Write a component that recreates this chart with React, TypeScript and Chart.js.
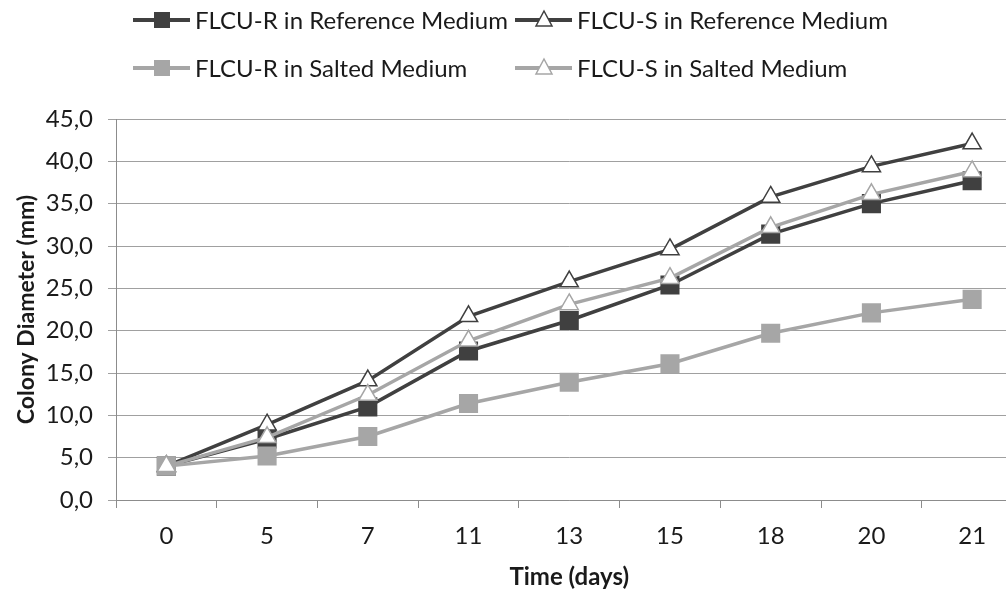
import React, { useEffect, useRef } from "react";
import { Chart, registerables } from "chart.js";

Chart.register(...registerables);

const days = ["0", "5", "7", "11", "13", "15", "18", "20", "21"];
const refR = [4.0, 7.2, 11.0, 17.6, 21.2, 25.4, 31.4, 35.0, 37.7];
const refS = [4.0, 8.9, 14.1, 21.7, 25.8, 29.6, 35.8, 39.4, 42.1];
const saltR = [4.0, 5.2, 7.5, 11.4, 13.9, 16.1, 19.7, 22.1, 23.7];
const saltS = [4.0, 7.4, 12.4, 18.8, 23.1, 26.2, 32.2, 36.1, 38.8];
const yTicks = [0, 5, 10, 15, 20, 25, 30, 35, 40, 45];

const DARK = "#404040";
const LIGHT = "#a6a6a6";
const FONT = "Lato, 'Open Sans', sans-serif";

const legendPlugin = {
  id: "gridLegend",
  afterDraw(chart: any) {
    const ctx = chart.ctx;
    const cols = [133, 515];
    const rows = [20, 68];
    chart.data.datasets.forEach((ds: any, i: number) => {
      const x = cols[i % 2];
      const y = rows[Math.floor(i / 2)];
      ctx.save();
      ctx.strokeStyle = ds.borderColor;
      ctx.lineWidth = 4;
      ctx.beginPath();
      ctx.moveTo(x, y);
      ctx.lineTo(x + 57, y);
      ctx.stroke();
      const cx = x + 29;
      if (ds.pointStyle === "rect") {
        ctx.fillStyle = ds.pointBackgroundColor;
        ctx.fillRect(cx - 8, y - 8, 16, 16);
      } else {
        ctx.fillStyle = "#ffffff";
        ctx.strokeStyle = ds.pointBorderColor;
        ctx.lineWidth = 1.5;
        ctx.beginPath();
        ctx.moveTo(cx, y - 9);
        ctx.lineTo(cx + 8, y + 6);
        ctx.lineTo(cx - 8, y + 6);
        ctx.closePath();
        ctx.fill();
        ctx.stroke();
      }
      ctx.fillStyle = "#1a1a1a";
      ctx.font = `24px ${FONT}`;
      ctx.textBaseline = "middle";
      ctx.textAlign = "left";
      ctx.fillText(ds.label, x + 62, y + 1);
      ctx.restore();
    });
  },
};

export default function App() {
  const ref = useRef<HTMLCanvasElement | null>(null);

  useEffect(() => {
    if (!ref.current) return;
    const chart = new Chart(ref.current, {
      type: "line",
      data: {
        labels: days,
        datasets: [
          {
            label: "FLCU-R in Reference Medium",
            data: refR,
            borderColor: DARK,
            borderWidth: 3.5,
            pointStyle: "rect",
            pointRadius: 13.5,
            pointBackgroundColor: DARK,
            pointBorderColor: DARK,
            pointBorderWidth: 0,
            order: 4,
          },
          {
            label: "FLCU-S in Reference Medium",
            data: refS,
            borderColor: DARK,
            borderWidth: 3.5,
            pointStyle: "triangle",
            pointRadius: 10.5,
            pointBackgroundColor: "#ffffff",
            pointBorderColor: DARK,
            pointBorderWidth: 1.5,
            order: 3,
          },
          {
            label: "FLCU-R in Salted Medium",
            data: saltR,
            borderColor: LIGHT,
            borderWidth: 3.5,
            pointStyle: "rect",
            pointRadius: 13.5,
            pointBackgroundColor: LIGHT,
            pointBorderColor: LIGHT,
            pointBorderWidth: 0,
            order: 2,
          },
          {
            label: "FLCU-S in Salted Medium",
            data: saltS,
            borderColor: LIGHT,
            borderWidth: 3.5,
            pointStyle: "triangle",
            pointRadius: 10.5,
            pointBackgroundColor: "#ffffff",
            pointBorderColor: LIGHT,
            pointBorderWidth: 1.5,
            order: 1,
          },
        ],
      },
      options: {
        responsive: false,
        animation: false,
        layout: { padding: { top: 119, right: 0, left: 0, bottom: 0 } },
        plugins: {
          legend: { display: false },
          tooltip: { enabled: false },
        },
        scales: {
          x: {
            type: "category",
            offset: true,
            afterFit: (s: any) => {
              s.height = 92;
            },
            grid: {
              display: true,
              drawOnChartArea: false,
              drawTicks: true,
              tickLength: 8,
              offset: true,
              color: "#8c8c8c",
            },
            border: { display: true, color: "#8c8c8c", width: 1 },
            ticks: {
              color: "#1a1a1a",
              font: { family: FONT, size: 24 },
              padding: 14,
              maxRotation: 0,
            },
            title: {
              display: true,
              text: "Time (days)",
              color: "#1a1a1a",
              font: { family: FONT, size: 24, weight: "bold" },
              padding: { top: 0, bottom: 0 },
            },
          },
          y: {
            min: 0,
            max: 45,
            afterFit: (s: any) => {
              s.width = 116;
            },
            afterBuildTicks: (s: any) => {
              s.ticks = yTicks.map((v) => ({ value: v }));
            },
            grid: {
              color: "#a0a0a0",
              lineWidth: 1,
              drawTicks: true,
              tickLength: 8,
            },
            border: { display: true, color: "#8c8c8c", width: 1 },
            ticks: {
              color: "#1a1a1a",
              font: { family: FONT, size: 24 },
              padding: 15,
              callback: (v: any) => Number(v).toFixed(1).replace(".", ","),
            },
            title: {
              display: true,
              text: "Colony Diameter (mm)",
              color: "#1a1a1a",
              font: { family: FONT, size: 23, weight: "bold" },
              padding: { top: 13, bottom: 0 },
            },
          },
        },
      },
      plugins: [legendPlugin],
    });
    return () => chart.destroy();
  }, []);

  return (
    <div
      style={{
        position: "fixed",
        left: 0,
        top: 0,
        width: 1006,
        height: 592,
        overflow: "hidden",
        background: "#ffffff",
      }}
    >
      <canvas ref={ref} width={1036} height={592} style={{ display: "block" }} />
    </div>
  );
}
